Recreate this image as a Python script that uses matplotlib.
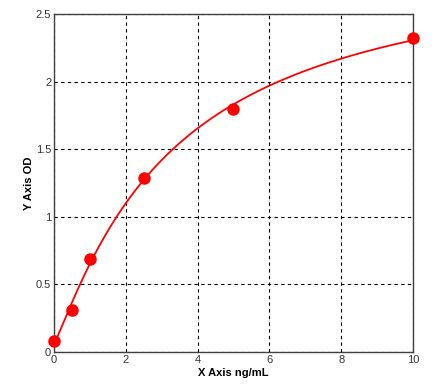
import matplotlib
matplotlib.use("Agg")
import matplotlib.pyplot as plt
import numpy as np

# standard curve data
conc = [0, 0.5, 1, 2.5, 5, 10]
od = [0.08, 0.31, 0.69, 1.29, 1.80, 2.32]
x_ticks = [0, 2, 4, 6, 8, 10]
y_ticks = [0, 0.5, 1, 1.5, 2, 2.5]


def fit_4pl(x, y):
    # crude 4PL fit: grid over c, b; linear least squares for a, d
    x = np.asarray(x, float)
    y = np.asarray(y, float)
    best = None
    for c in np.linspace(0.5, 30, 300):
        for b in np.linspace(0.5, 3, 101):
            g = 1.0 / (1.0 + (x / c) ** b)
            A = np.column_stack([g, 1 - g])
            coef, *_ = np.linalg.lstsq(A, y, rcond=None)
            err = np.sum((A @ coef - y) ** 2)
            if best is None or err < best[0]:
                best = (err, coef[0], coef[1], c, b)
    _, a, d, c, b = best
    return lambda t: d + (a - d) / (1.0 + (t / c) ** b)


plt.rcParams['font.family'] = ['Liberation Sans', 'DejaVu Sans']

fig = plt.figure(figsize=(4.4, 3.88), dpi=100)
ax = fig.add_axes([0.1227, 0.0928, 0.8159, 0.8711])

f = fit_4pl(conc, od)
xs = np.linspace(0, 10, 300)
ax.plot(xs, f(xs), color='red', lw=1.3, zorder=3)
ax.plot(conc, od, 'o', color='red', ms=8, zorder=4, clip_on=False)

ax.set_xlim(0, 10)
ax.set_ylim(0, 2.5)
ax.set_xticks(x_ticks)
ax.set_yticks(y_ticks)
ax.set_xticklabels([str(v) for v in x_ticks])
ax.set_yticklabels(['0', '0.5', '1', '1.5', '2', '2.5'])
ax.tick_params(length=0, labelsize=8, pad=2, colors='#333333')
ax.grid(True, color='black', ls=(0, (3, 3)), lw=0.8)

for s in ax.spines.values():
    s.set_color('#404040')
    s.set_linewidth(1)

ax.set_xlabel('X Axis ng/mL', fontsize=8, fontweight='bold', labelpad=2)
ax.set_ylabel('Y Axis OD', fontsize=8, fontweight='bold', labelpad=1)

fig.savefig('out.png', dpi=100)
